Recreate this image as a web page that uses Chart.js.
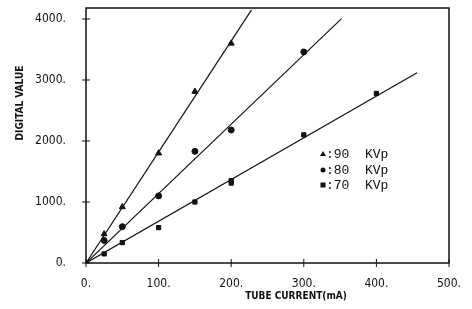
<!DOCTYPE html>
<html>
<head>
<meta charset="utf-8">
<script src="https://cdn.jsdelivr.net/npm/chart.js@4"></script>
<style>
  html, body { margin: 0; padding: 0; background: #fff; }
  #wrap { width: 472px; height: 309px; }
</style>
</head>
<body>
<div id="wrap"><canvas id="chart" width="472" height="309"></canvas></div>
<script>
const current90 = [25, 50, 100, 150, 200];
const value90 = [475, 920, 1800, 2810, 3600];
const current80 = [25, 50, 100, 150, 200, 300];
const value80 = [370, 595, 1100, 1830, 2180, 3460];
const current70 = [25, 50, 100, 150, 200, 200, 300, 400];
const value70 = [150, 335, 580, 1000, 1310, 1350, 2100, 2780];

// Fitted lines (start and end of each drawn line)
const fit90 = [[0, 0], [228, 4150]];
const fit80 = [[0, 0], [352, 4005]];
const fit70 = [[0, 0], [456, 3120]];

const xTicks = [0, 100, 200, 300, 400, 500];
const yTicks = [0, 1000, 2000, 3000, 4000];
const legendLabels = ['90  KVp', '80  KVp', '70  KVp'];

const ink = '#111';
const tickFont = { family: 'DejaVu Sans Condensed', size: 12 };

function toPoints(xs, ys) {
    return xs.map((x, i) => ({ x: x, y: ys[i] }));
}
function fitPoints(f) {
    return f.map(p => ({ x: p[0], y: p[1] }));
}

// Frame, cross ticks, axis titles and legend
const framePlugin = {
    id: 'frame',
    afterDraw(chart) {
        const ctx = chart.ctx;
        const a = chart.chartArea;
        const xs = chart.scales.x;
        const ys = chart.scales.y;
        ctx.save();
        ctx.strokeStyle = ink;
        ctx.lineWidth = 1.5;
        ctx.strokeRect(a.left, a.top, a.right - a.left, a.bottom - a.top);

        ctx.lineWidth = 1;
        xTicks.forEach(v => {
            const px = xs.getPixelForValue(v);
            ctx.beginPath();
            ctx.moveTo(px, a.bottom - 4);
            ctx.lineTo(px, a.bottom + 4);
            ctx.stroke();
        });
        yTicks.forEach(v => {
            const py = ys.getPixelForValue(v);
            ctx.beginPath();
            ctx.moveTo(a.left - 4, py);
            ctx.lineTo(a.left + 4, py);
            ctx.stroke();
        });

        // axis titles
        ctx.fillStyle = ink;
        ctx.font = 'bold 10px "DejaVu Sans Condensed"';
        ctx.textAlign = 'center';
        ctx.textBaseline = 'middle';
        ctx.fillText('TUBE CURRENT(mA)', 296, 296);
        ctx.save();
        ctx.translate(20, 103);
        ctx.rotate(-Math.PI / 2);
        ctx.fillText('DIGITAL VALUE', 0, 0);
        ctx.restore();

        // legend
        const shapes = ['triangle', 'circle', 'rect'];
        const rows = [154, 170, 185];
        ctx.font = '13px "Liberation Mono"';
        ctx.textAlign = 'left';
        rows.forEach((ry, i) => {
            const mx = 323;
            ctx.beginPath();
            if (shapes[i] === 'triangle') {
                ctx.moveTo(mx, ry - 3);
                ctx.lineTo(mx + 3, ry + 2);
                ctx.lineTo(mx - 3, ry + 2);
                ctx.closePath();
            } else if (shapes[i] === 'circle') {
                ctx.arc(mx, ry, 2.5, 0, Math.PI * 2);
            } else {
                ctx.rect(mx - 2.5, ry - 2.5, 5, 5);
            }
            ctx.fill();
            ctx.fillText(':' + legendLabels[i], mx + 3, ry + 1);
        });
        ctx.restore();
    }
};

const scatterStyle = {
    type: 'scatter',
    backgroundColor: ink,
    borderColor: ink,
    pointRadius: 3,
    pointHoverRadius: 3,
    showLine: false
};
const lineStyle = {
    type: 'line',
    borderColor: ink,
    borderWidth: 1.2,
    pointRadius: 0,
    fill: false,
    tension: 0
};

new Chart(document.getElementById('chart'), {
    data: {
        datasets: [
            Object.assign({ label: '90', data: toPoints(current90, value90), pointStyle: 'triangle' }, scatterStyle, { pointRadius: 3.5 }),
            Object.assign({ label: '80', data: toPoints(current80, value80), pointStyle: 'circle' }, scatterStyle),
            Object.assign({ label: '70', data: toPoints(current70, value70), pointStyle: 'rect' }, scatterStyle),
            Object.assign({ label: 'fit90', data: fitPoints(fit90) }, lineStyle),
            Object.assign({ label: 'fit80', data: fitPoints(fit80) }, lineStyle),
            Object.assign({ label: 'fit70', data: fitPoints(fit70) }, lineStyle)
        ]
    },
    options: {
        responsive: false,
        animation: false,
        layout: { padding: { left: 0, right: 23, top: 8, bottom: 0 } },
        plugins: {
            legend: { display: false },
            tooltip: { enabled: false }
        },
        scales: {
            x: {
                type: 'linear',
                min: 0,
                max: 500,
                afterBuildTicks(scale) { scale.ticks = xTicks.map(v => ({ value: v })); },
                afterFit(scale) {
                    scale.height = 46;
                    scale.paddingLeft = 0;
                    scale.paddingRight = 0;
                },
                grid: { display: false },
                border: { display: false },
                ticks: {
                    color: ink,
                    font: tickFont,
                    padding: 6,
                    maxRotation: 0,
                    callback: v => v + '.'
                }
            },
            y: {
                type: 'linear',
                min: 0,
                max: 4180,
                afterBuildTicks(scale) { scale.ticks = yTicks.map(v => ({ value: v })); },
                afterFit(scale) {
                    scale.width = 86;
                    scale.paddingTop = 0;
                    scale.paddingBottom = 0;
                },
                grid: { display: false },
                border: { display: false },
                ticks: {
                    color: ink,
                    font: tickFont,
                    padding: 12,
                    callback: v => v + '.'
                }
            }
        }
    },
    plugins: [framePlugin]
});
</script>
</body>
</html>
